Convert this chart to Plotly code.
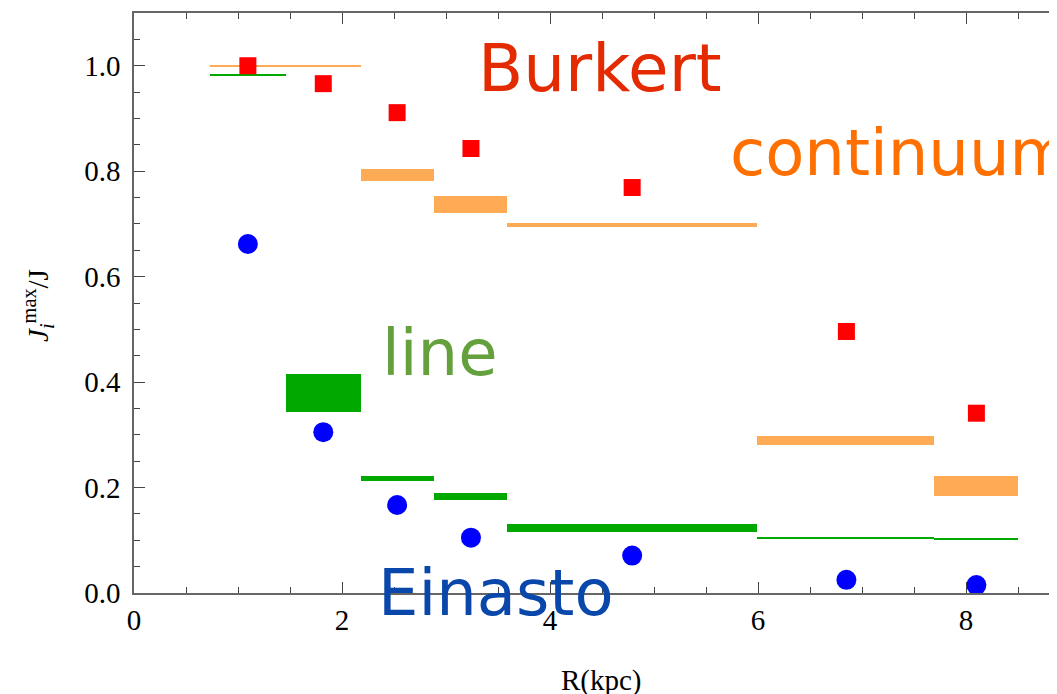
import plotly.graph_objects as go

# ---- data ----
bin_edges = [0.73, 1.46, 2.18, 2.885, 3.59, 5.99, 7.69, 8.5]
radius_points = [1.095, 1.82, 2.53, 3.24, 4.79, 6.85, 8.10]
burkert = [1.0, 0.966, 0.911, 0.843, 0.769, 0.496, 0.341]
einasto = [0.662, 0.305, 0.167, 0.105, 0.071, 0.025, 0.015]
continuum_low = [0.997, 0.997, 0.781, 0.720, 0.694, 0.280, 0.184]
continuum_high = [1.002, 1.002, 0.805, 0.752, 0.702, 0.298, 0.222]
line_low = [0.981, 0.344, 0.213, 0.176, 0.115, 0.102, 0.100]
line_high = [0.985, 0.415, 0.222, 0.190, 0.131, 0.107, 0.105]
x_ticks = [0, 2, 4, 6, 8]
y_ticks = [0.0, 0.2, 0.4, 0.6, 0.8, 1.0]

lefts = bin_edges[:-1]
rights = bin_edges[1:]
centers = [(a + b) / 2 for a, b in zip(lefts, rights)]
widths = [b - a for a, b in zip(lefts, rights)]

fig = go.Figure()

fig.add_trace(go.Bar(
    x=centers, y=[h - l for l, h in zip(line_low, line_high)], base=line_low,
    width=widths, marker=dict(color="#00A800", line=dict(width=0)),
    showlegend=False, name="line"))
fig.add_trace(go.Bar(
    x=centers, y=[h - l for l, h in zip(continuum_low, continuum_high)], base=continuum_low,
    width=widths, marker=dict(color="#FFAA55", line=dict(width=0)),
    showlegend=False, name="continuum"))

fig.add_trace(go.Scatter(
    x=radius_points, y=burkert, mode="markers", cliponaxis=False,
    marker=dict(symbol="square", size=17, color="#FF0000", line=dict(width=0)),
    showlegend=False, name="Burkert"))
fig.add_trace(go.Scatter(
    x=radius_points, y=einasto, mode="markers", cliponaxis=False,
    marker=dict(symbol="circle", size=20, color="#0000FF", line=dict(width=0)),
    showlegend=False, name="Einasto"))

label_font = "DejaVu Sans"
fig.add_annotation(text="Burkert", x=4.48, y=0.995, xref="x", yref="y",
                   showarrow=False, xanchor="center", yanchor="middle",
                   font=dict(family=label_font, size=66, color="#E32A00"))
fig.add_annotation(text="continuum", x=5.71, y=0.835, xref="x", yref="y",
                   showarrow=False, xanchor="left", yanchor="middle",
                   font=dict(family=label_font, size=64, color="#FF7000"))
fig.add_annotation(text="line", x=2.37, y=0.455, xref="x", yref="y",
                   showarrow=False, xanchor="left", yanchor="middle",
                   font=dict(family=label_font, size=64, color="#64A03C"))
fig.add_annotation(text="Einasto", x=2.33, y=0.0, xref="x", yref="paper",
                   showarrow=False, xanchor="left", yanchor="middle",
                   font=dict(family=label_font, size=64, color="#0A47AA"))

# axis titles
fig.add_annotation(text="R(kpc)", x=0.506, y=-0.15, xref="paper", yref="paper",
                   showarrow=False, xanchor="center", yanchor="middle",
                   font=dict(family="Liberation Serif", size=29, color="#000"))
fig.add_annotation(text="<i>J</i><sub><i>i</i></sub><sup>max</sup>/J", x=-0.104, y=0.495,
                   xref="paper", yref="paper", textangle=-90,
                   showarrow=False, xanchor="center", yanchor="middle",
                   font=dict(family="Liberation Serif", size=29, color="#000"))

axis_common = dict(
    showgrid=False, zeroline=False, showline=True, linecolor="#666666", linewidth=1.5,
    ticks="inside", ticklen=11, tickwidth=1.2, tickcolor="#444444",
    tickfont=dict(family="Liberation Serif", size=29, color="#000"),
)
fig.update_xaxes(range=[0, 8.875], tickvals=x_ticks, ticktext=[str(v) for v in x_ticks],
                 mirror="ticks", minor=dict(dtick=0.5, ticklen=6, ticks="inside",
                                            tickcolor="#444444", tickwidth=1.2),
                 **axis_common)
fig.update_yaxes(range=[0, 1.1], tickvals=y_ticks, ticktext=[f"{v:.1f}" for v in y_ticks],
                 minor=dict(dtick=0.05, ticklen=6, ticks="inside",
                            tickcolor="#444444", tickwidth=1.2),
                 ticklabelstandoff=6, **axis_common)

# page body adds an 8px margin; compensate so the plot area lands where the reference has it
fig.update_layout(
    width=1049, height=686,
    margin=dict(l=126, r=0, t=5, b=101),
    paper_bgcolor="white", plot_bgcolor="white",
    barmode="overlay", bargap=0,
)

fig.write_html("out.html")
